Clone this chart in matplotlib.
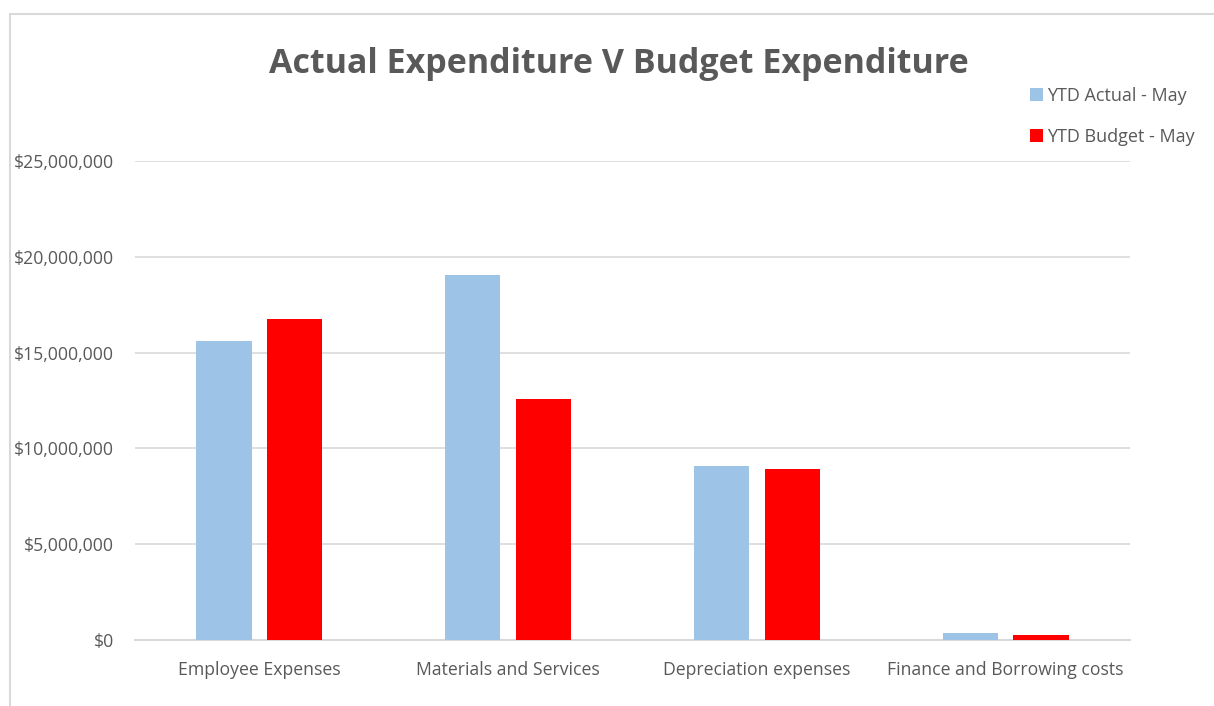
import matplotlib.pyplot as plt
import matplotlib.patches as mpatches
import numpy as np
from matplotlib.ticker import FuncFormatter

categories = ['Employee Expenses', 'Materials and Services', 'Depreciation expenses', 'Finance and Borrowing costs']
ytd_actual = [15600000, 19050000, 9080000, 350000]
ytd_budget = [16750000, 12580000, 8930000, 280000]
series_names = ['YTD Actual - May', 'YTD Budget - May']

plt.rcParams['font.family'] = ['Open Sans', 'DejaVu Sans']
grey = '#595959'

fig = plt.figure(figsize=(12.14, 7.06), dpi=100)
W, H = 1214, 706
ax = fig.add_axes([135 / W, 1 - 640 / H, (1130 - 135) / W, (640 - 161) / H])

x = np.arange(len(categories))
bw = 0.222
ax.bar(x - 0.142, ytd_actual, bw, color='#9dc3e6', label=series_names[0], zorder=3)
ax.bar(x + 0.142, ytd_budget, bw, color='#ff0000', label=series_names[1], zorder=3)

ax.set_xlim(-0.5, len(categories) - 0.5)
ax.set_ylim(0, 25000000)
ax.set_yticks(np.arange(0, 25000001, 5000000))
ax.yaxis.set_major_formatter(FuncFormatter(lambda v, p: '${:,.0f}'.format(v)))
ax.set_xticks(x)
ax.set_xticklabels(categories)
ax.grid(axis='y', color='#d9d9d9', linewidth=1.2, zorder=0)
for s in ['top', 'right', 'left']:
    ax.spines[s].set_visible(False)
ax.spines['bottom'].set_color('#d9d9d9')
ax.spines['bottom'].set_linewidth(1.5)
ax.tick_params(axis='x', length=0, labelsize=12.7, colors=grey, pad=15)
ax.tick_params(axis='y', length=0, labelsize=12.7, colors=grey, pad=15)

fig.text(619 / W, 1 - 64 / H, 'Actual Expenditure V Budget Expenditure', ha='center', va='center',
         fontsize=24.5, fontweight='bold', color=grey)

leg = fig.legend(loc='upper left', bbox_to_anchor=(1030 / W, 1 - 87 / H), frameon=False,
                 fontsize=13, labelcolor=grey, handlelength=0.7, handleheight=0.7,
                 handletextpad=0.25, labelspacing=1.27, borderpad=0, borderaxespad=0)

# outer chart frame
fig.add_artist(mpatches.Rectangle((10 / W, -0.1), 1.2, 1 - 14 / H + 0.1, transform=fig.transFigure,
                                  fill=False, edgecolor='#d9d9d9', linewidth=1.5))

fig.savefig('out.png', dpi=100)
